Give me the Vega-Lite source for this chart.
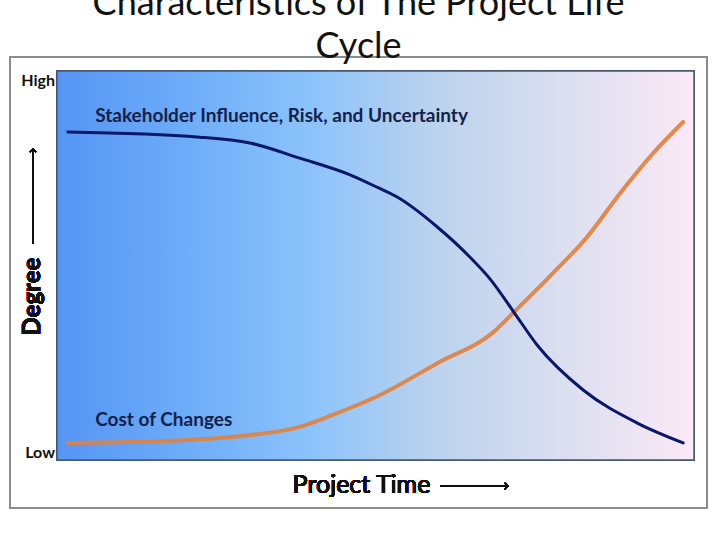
{
  "$schema": "https://vega.github.io/schema/vega-lite/v6.json",
  "width": 697,
  "height": 451,
  "autosize": {"type": "none"},
  "padding": {"left": 10, "top": 57, "right": 13, "bottom": 32},
  "background": "white",
  "title": {
    "text": ["Characteristics of The Project Life", "Cycle"],
    "font": "Lato",
    "fontSize": 36,
    "fontWeight": "normal",
    "color": "#111111",
    "lineHeight": 43,
    "anchor": "middle",
    "frame": "group",
    "baseline": "bottom",
    "offset": -45
  },
  "config": {
    "view": {"stroke": "#8c8c8c", "strokeWidth": 2, "fill": "white"}
  },
  "datasets": {
    "curves": [
      {"series": "Stakeholder Influence, Risk, and Uncertainty", "t": 1.7, "degree": 84.3},
      {"series": "Stakeholder Influence, Risk, and Uncertainty", "t": 22.4, "degree": 83.0},
      {"series": "Stakeholder Influence, Risk, and Uncertainty", "t": 30.3, "degree": 81.5},
      {"series": "Stakeholder Influence, Risk, and Uncertainty", "t": 38.1, "degree": 77.6},
      {"series": "Stakeholder Influence, Risk, and Uncertainty", "t": 46.0, "degree": 73.3},
      {"series": "Stakeholder Influence, Risk, and Uncertainty", "t": 50.4, "degree": 70.0},
      {"series": "Stakeholder Influence, Risk, and Uncertainty", "t": 53.4, "degree": 67.6},
      {"series": "Stakeholder Influence, Risk, and Uncertainty", "t": 59.7, "degree": 59.9},
      {"series": "Stakeholder Influence, Risk, and Uncertainty", "t": 64.8, "degree": 52.2},
      {"series": "Stakeholder Influence, Risk, and Uncertainty", "t": 68.0, "degree": 46.5},
      {"series": "Stakeholder Influence, Risk, and Uncertainty", "t": 71.6, "degree": 38.3},
      {"series": "Stakeholder Influence, Risk, and Uncertainty", "t": 75.4, "degree": 29.5},
      {"series": "Stakeholder Influence, Risk, and Uncertainty", "t": 82.6, "degree": 18.0},
      {"series": "Stakeholder Influence, Risk, and Uncertainty", "t": 91.1, "degree": 9.5},
      {"series": "Stakeholder Influence, Risk, and Uncertainty", "t": 98.3, "degree": 4.4},
      {"series": "Cost of Changes", "t": 1.7, "degree": 4.4},
      {"series": "Cost of Changes", "t": 19.8, "degree": 5.1},
      {"series": "Cost of Changes", "t": 30.3, "degree": 6.4},
      {"series": "Cost of Changes", "t": 38.1, "degree": 8.5},
      {"series": "Cost of Changes", "t": 43.3, "degree": 11.6},
      {"series": "Cost of Changes", "t": 50.7, "degree": 16.7},
      {"series": "Cost of Changes", "t": 59.7, "degree": 24.9},
      {"series": "Cost of Changes", "t": 68.6, "degree": 33.0},
      {"series": "Cost of Changes", "t": 71.6, "degree": 37.8},
      {"series": "Cost of Changes", "t": 77.9, "degree": 48.1},
      {"series": "Cost of Changes", "t": 83.2, "degree": 57.3},
      {"series": "Cost of Changes", "t": 88.4, "degree": 68.6},
      {"series": "Cost of Changes", "t": 93.6, "degree": 78.9},
      {"series": "Cost of Changes", "t": 98.3, "degree": 86.9}
    ],
    "labels": [
      {"label": "Stakeholder Influence, Risk, and Uncertainty", "t": 6.0, "degree": 87.0},
      {"label": "Cost of Changes", "t": 6.0, "degree": 8.7}
    ],
    "levels": [
      {"label": "High", "t": 0, "degree": 97.4},
      {"label": "Low", "t": 0, "degree": 1.8}
    ]
  },
  "data": {"name": "curves"},
  "layer": [
    {
      "mark": {
        "type": "rect",
        "stroke": "#4b5873",
        "strokeWidth": 1.5,
        "fill": {
          "gradient": "linear",
          "x1": 0, "y1": 0, "x2": 1, "y2": 0,
          "stops": [
            {"offset": 0, "color": "#5595f4"},
            {"offset": 0.2, "color": "#6dacf8"},
            {"offset": 0.4, "color": "#8cc3fb"},
            {"offset": 0.6, "color": "#bcd3ed"},
            {"offset": 0.8, "color": "#dcdff0"},
            {"offset": 1, "color": "#fbe9f6"}
          ]
        }
      },
      "encoding": {
        "x": {"datum": 0, "type": "quantitative", "scale": {"domain": [-7.38, 102.04], "nice": false, "zero": false}, "axis": null},
        "x2": {"datum": 100},
        "y": {"datum": 0, "type": "quantitative", "scale": {"domain": [-12.34, 103.6], "nice": false, "zero": false}, "axis": null},
        "y2": {"datum": 100}
      }
    },
    {
      "transform": [{"filter": "datum.series === 'Cost of Changes'"}],
      "mark": {"type": "line", "interpolate": "monotone", "color": "#e0823f", "strokeWidth": 4, "strokeCap": "round", "opacity": 0.92},
      "encoding": {
        "x": {"field": "t", "type": "quantitative"},
        "y": {"field": "degree", "type": "quantitative"}
      }
    },
    {
      "transform": [{"filter": "datum.series !== 'Cost of Changes'"}],
      "mark": {"type": "line", "interpolate": "monotone", "color": "#0b1769", "strokeWidth": 3, "strokeCap": "round"},
      "encoding": {
        "x": {"field": "t", "type": "quantitative"},
        "y": {"field": "degree", "type": "quantitative"}
      }
    },
    {
      "data": {"name": "labels"},
      "mark": {"type": "text", "align": "left", "baseline": "alphabetic", "font": "Lato", "fontWeight": "bold", "fontSize": 19, "color": "#142249"},
      "encoding": {
        "x": {"field": "t", "type": "quantitative"},
        "y": {"field": "degree", "type": "quantitative"},
        "text": {"field": "label"}
      }
    },
    {
      "data": {"name": "levels"},
      "mark": {"type": "text", "align": "right", "baseline": "middle", "dx": -2, "font": "Lato", "fontWeight": "bold", "fontSize": 16, "color": "#111111"},
      "encoding": {
        "x": {"field": "t", "type": "quantitative"},
        "y": {"field": "degree", "type": "quantitative"},
        "text": {"field": "label"}
      }
    },
    {
      "mark": {"type": "text", "angle": 270, "align": "center", "baseline": "middle", "font": "Lato", "fontWeight": "bold", "fontSize": 24, "color": "#111111"},
      "encoding": {
        "x": {"datum": -3.77},
        "y": {"datum": 42.0},
        "text": {"value": "Degree"}
      }
    },
    {
      "mark": {"type": "rule", "color": "#111111", "strokeWidth": 1.3},
      "encoding": {
        "x": {"datum": -3.77},
        "y": {"datum": 55.5},
        "y2": {"datum": 80.0}
      }
    },
    {
      "mark": {"type": "point", "shape": "M -1 1 L 0 0 L 1 1", "filled": false, "color": "#111111", "strokeWidth": 1.3, "size": 40, "opacity": 1},
      "encoding": {
        "x": {"datum": -3.77},
        "y": {"datum": 80.0}
      }
    },
    {
      "mark": {"type": "text", "align": "center", "baseline": "alphabetic", "font": "Lato", "fontSize": 25, "color": "#111111"},
      "encoding": {
        "x": {"datum": 47.8},
        "y": {"datum": -8.5},
        "text": {"value": "Project Time"}
      }
    },
    {
      "mark": {"type": "rule", "color": "#111111", "strokeWidth": 1.5},
      "encoding": {
        "x": {"datum": 60.2},
        "x2": {"datum": 70.8},
        "y": {"datum": -6.7}
      }
    },
    {
      "mark": {"type": "point", "shape": "M -1 -1 L 0 0 L -1 1", "filled": false, "color": "#111111", "strokeWidth": 1.5, "size": 40, "opacity": 1},
      "encoding": {
        "x": {"datum": 70.8},
        "y": {"datum": -6.7}
      }
    }
  ]
}
